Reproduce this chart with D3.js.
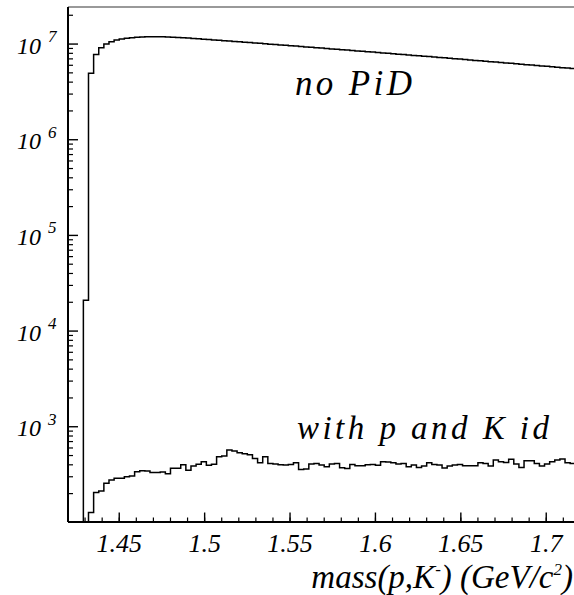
<!DOCTYPE html>
<html>
<head>
<meta charset="utf-8">
<script src="https://cdn.jsdelivr.net/npm/d3@7"></script>
<style>
  body { margin: 0; background: #fff; }
</style>
</head>
<body>
<div id="chart"></div>
<script>
// histogram definition: 100 bins of 3 MeV between 1.42 and 1.72 GeV
var massMin = 1.42
var massMax = 1.72
var nBins = 100

// bin contents, no particle id
var noPid = [
  0, 0, 0, 21000, 4.94e6, 7.8e6, 9.15e6, 1.0e7, 1.057e7, 1.10e7,
  1.127e7, 1.147e7, 1.165e7, 1.178e7, 1.186e7, 1.191e7, 1.193e7, 1.192e7, 1.189e7, 1.184e7,
  1.179e7, 1.173e7, 1.167e7, 1.1563e7, 1.146e7, 1.1357e7, 1.1253e7, 1.115e7, 1.1048e7, 1.0949e7,
  1.0849e7, 1.075e7, 1.0651e7, 1.0551e7, 1.0454e7, 1.0358e7, 1.0261e7, 1.0167e7, 1.0072e7, 9.977e6,
  9.886e6, 9.793e6, 9.701e6, 9.61e6, 9.52e6, 9.429e6, 9.34e6, 9.252e6, 9.162e6, 9.076e6,
  8.989e6, 8.904e6, 8.818e6, 8.733e6, 8.65e6, 8.566e6, 8.484e6, 8.4e6, 8.319e6, 8.239e6,
  8.16e6, 8.08e6, 8.0e6, 7.923e6, 7.845e6, 7.768e6, 7.691e6, 7.616e6, 7.541e6, 7.466e6,
  7.392e6, 7.318e6, 7.246e6, 7.173e6, 7.102e6, 7.031e6, 6.96e6, 6.89e6, 6.82e6, 6.752e6,
  6.683e6, 6.616e6, 6.549e6, 6.481e6, 6.416e6, 6.351e6, 6.285e6, 6.22e6, 6.158e6, 6.095e6,
  6.032e6, 5.97e6, 5.908e6, 5.848e6, 5.786e6, 5.727e6, 5.666e6, 5.608e6, 5.549e6, 5.492e6
]

// bin contents, with p and K identification
var withId = [
  0, 0, 0, 0, 127, 206, 213, 256, 277, 289,
  289, 300, 305, 339, 347, 344, 333, 333, 336, 323,
  368, 368, 401, 350, 389, 405, 431, 395, 405, 486,
  494, 571, 557, 535, 522, 510, 467, 421, 486, 414,
  408, 401, 398, 404, 421, 358, 361, 408, 414, 398,
  382, 408, 414, 373, 367, 404, 392, 392, 401, 404,
  395, 431, 428, 421, 408, 414, 382, 398, 376, 389,
  421, 404, 398, 370, 389, 398, 404, 392, 392, 392,
  421, 414, 389, 449, 431, 424, 456, 408, 376, 442,
  442, 414, 389, 408, 431, 449, 460, 421, 414, 410
]

var xTickLabels = ["1.45", "1.5", "1.55", "1.6", "1.65", "1.7"]
var yTickExponents = [3, 4, 5, 6, 7]
var curveLabels = ["no PiD", "with p and K id"]

var width = 574
var height = 595
var margin = { left: 68, top: 7, right: -6.4, bottom: 73 }
var innerW = width - margin.left - margin.right
var innerH = height - margin.top - margin.bottom
var FONT = "Liberation Serif"

var svg = d3.select("#chart")
  .append("svg")
  .attr("width", width)
  .attr("height", height)

var g = svg.append("g")
  .attr("transform", "translate(" + margin.left + "," + margin.top + ")")

var x = d3.scaleLinear().domain([massMin, massMax]).range([0, innerW])
var y = d3.scaleLog().domain([101, 2.44e7]).range([innerH, 0])

g.append("clipPath").attr("id", "clip")
  .append("rect").attr("width", innerW).attr("height", innerH)

// step outline of a histogram
function stepPoints(values) {
  var w = (massMax - massMin) / nBins
  var pts = [[x(massMin), innerH]]
  values.forEach(function (v, i) {
    var yy = v > y.domain()[0] ? y(v) : innerH
    pts.push([x(massMin + i * w), yy])
    pts.push([x(massMin + (i + 1) * w), yy])
  })
  pts.push([x(massMax), innerH])
  return pts
}

var line = d3.line()

g.selectAll("path.hist")
  .data([noPid, withId])
  .enter()
  .append("path")
  .attr("class", "hist")
  .attr("clip-path", "url(#clip)")
  .attr("d", function (d) { return line(stepPoints(d)) })
  .attr("fill", "none")
  .attr("stroke", "#000")
  .attr("stroke-width", 1.5)

// frame: top line in grey
g.append("line")
  .attr("x1", 0).attr("x2", innerW)
  .attr("y1", 0).attr("y2", 0)
  .attr("stroke", "#777").attr("stroke-width", 1.5)

// x axis, ticks pointing up
var xMinor = d3.range(1.42, 1.7201, 0.01)
g.selectAll("line.xminor")
  .data(xMinor)
  .enter()
  .append("line")
  .attr("x1", function (d) { return x(d) }).attr("x2", function (d) { return x(d) })
  .attr("y1", innerH).attr("y2", innerH - 4.5)
  .attr("stroke", "#000").attr("stroke-width", 1.2)

g.selectAll("line.xmajor")
  .data(xTickLabels)
  .enter()
  .append("line")
  .attr("x1", function (d) { return x(+d) }).attr("x2", function (d) { return x(+d) })
  .attr("y1", innerH).attr("y2", innerH - 9.5)
  .attr("stroke", "#000").attr("stroke-width", 1.4)

g.selectAll("text.xlab")
  .data(xTickLabels)
  .enter()
  .append("text")
  .attr("x", function (d) { return x(+d) })
  .attr("y", innerH + 30)
  .attr("text-anchor", "middle")
  .attr("font-family", FONT).attr("font-style", "italic")
  .attr("font-size", 26)
  .text(function (d) { return d })

g.append("line")
  .attr("x1", 0).attr("x2", innerW)
  .attr("y1", innerH).attr("y2", innerH)
  .attr("stroke", "#000").attr("stroke-width", 2)

// y axis, log ticks pointing right
var yMinor = []
yTickExponents.concat([2]).forEach(function (e) {
  for (var m = 2; m <= 9; m++) yMinor.push(m * Math.pow(10, e))
})
yMinor = yMinor.filter(function (v) { return v > y.domain()[0] && v < y.domain()[1] })

g.selectAll("line.yminor")
  .data(yMinor)
  .enter()
  .append("line")
  .attr("x1", 0).attr("x2", 5)
  .attr("y1", function (d) { return y(d) }).attr("y2", function (d) { return y(d) })
  .attr("stroke", "#000").attr("stroke-width", 1.2)

g.selectAll("line.ymajor")
  .data(yTickExponents)
  .enter()
  .append("line")
  .attr("x1", 0).attr("x2", 10)
  .attr("y1", function (d) { return y(Math.pow(10, d)) }).attr("y2", function (d) { return y(Math.pow(10, d)) })
  .attr("stroke", "#000").attr("stroke-width", 1.4)

var ylab = g.selectAll("text.ylab")
  .data(yTickExponents)
  .enter()
  .append("text")
  .attr("x", -51)
  .attr("y", function (d) { return y(Math.pow(10, d)) + 9.5 })
  .attr("font-family", FONT).attr("font-style", "italic")
  .attr("font-size", 24)
ylab.append("tspan").text("10")
ylab.append("tspan")
  .attr("dx", 7).attr("dy", -11.5)
  .attr("font-size", 17)
  .text(function (d) { return d })

g.append("line")
  .attr("x1", 0).attr("x2", 0)
  .attr("y1", 0).attr("y2", innerH)
  .attr("stroke", "#000").attr("stroke-width", 2)

// curve labels
svg.append("text")
  .attr("x", 295).attr("y", 95)
  .attr("textLength", 117).attr("lengthAdjust", "spacing")
  .attr("font-family", FONT).attr("font-style", "italic")
  .attr("font-size", 35)
  .text(curveLabels[0])

svg.append("text")
  .attr("x", 297).attr("y", 439)
  .attr("textLength", 252).attr("lengthAdjust", "spacing")
  .attr("font-family", FONT).attr("font-style", "italic")
  .attr("font-size", 33)
  .text(curveLabels[1])

// axis title
var title = svg.append("text")
  .attr("x", 573).attr("y", 588)
  .attr("text-anchor", "end")
  .attr("font-family", FONT).attr("font-style", "italic")
  .attr("font-size", 33)
title.append("tspan").text("mass(p,K")
title.append("tspan").attr("dy", -13).attr("font-size", 17).text("-")
title.append("tspan").attr("dy", 13).text(") (GeV/c")
title.append("tspan").attr("dy", -13).attr("font-size", 17).text("2")
title.append("tspan").attr("dy", 13).text(")")
</script>
</body>
</html>
